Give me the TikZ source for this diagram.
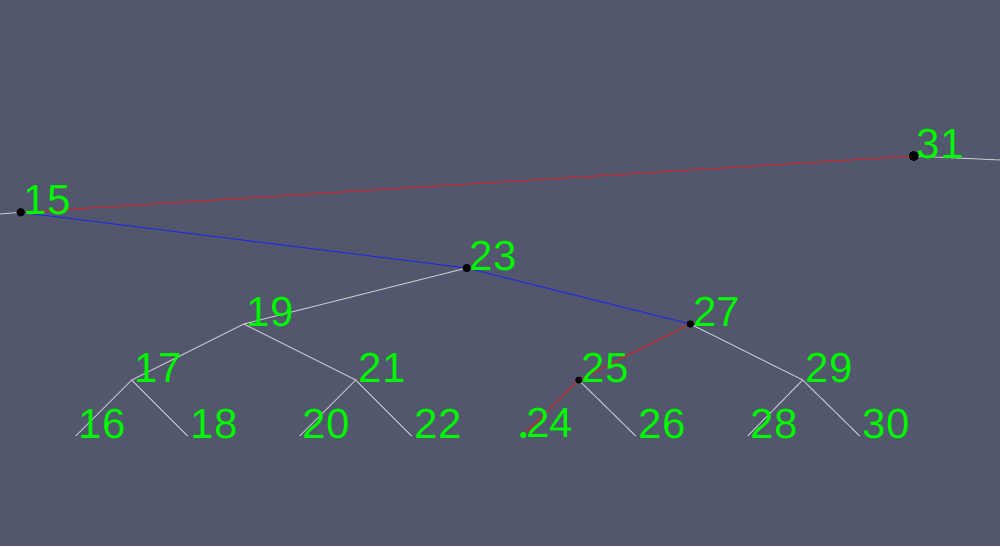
\documentclass[tikz,border=0pt]{standalone}
\usepackage{fontspec}
\setmainfont{Liberation Sans}
\usetikzlibrary{backgrounds}
\definecolor{tbbg}{RGB}{82,87,110}
\definecolor{tbgreen}{RGB}{0,250,0}
\definecolor{tbred}{RGB}{210,35,35}
\definecolor{tbblue}{RGB}{35,40,230}
\definecolor{tbgray}{RGB}{195,195,202}

\begin{document}
\begin{tikzpicture}[
    x=1pt, y=-1pt,
    pt/.style={circle, inner sep=0pt, minimum size=0pt},
    dot/.style={circle, fill=#1, inner sep=0pt},
    num/.style={font=\fontsize{42}{42}\selectfont, text=tbgreen, inner sep=0pt,
                anchor=base west, xshift=3pt, yshift=-2pt},
    edge/.style={line width=1pt, draw=#1},
]
\useasboundingbox (0,0) rectangle (1000,546);

% --- TOP: root chain ---
\coordinate (lout) at (0,214);
\coordinate (rout) at (1000,160);
\node[dot=black, minimum size=8.5pt] (n15) at (20.7,212.3) {};
\node[dot=black, minimum size=10pt]  (n31) at (913.7,156) {};

% --- LEVEL 2-3: inner nodes ---
\node[dot=black, minimum size=8.5pt] (n23) at (466.7,268) {};
\node[pt]                            (n19) at (243.7,324) {};
\node[dot=black, minimum size=7.5pt] (n27) at (690.3,324) {};

% --- LEVEL 4 ---
\node[pt]                          (n17) at (131.7,380) {};
\node[pt]                          (n21) at (355.7,380) {};
\node[dot=black, minimum size=7pt] (n25) at (578.7,380) {};
\node[pt]                          (n29) at (802.7,380) {};

% --- LEAVES ---
\node[pt]                              (n16) at (75.7,436) {};
\node[pt]                              (n18) at (187.7,436) {};
\node[pt]                              (n20) at (299.7,436) {};
\node[pt]                              (n22) at (411.7,436) {};
\node[dot=tbgreen, minimum size=6.5pt] (n24) at (523.3,435) {};
\node[pt]                              (n26) at (635.7,436) {};
\node[pt]                              (n28) at (747.7,436) {};
\node[pt]                              (n30) at (859.7,436) {};

% --- Key labels ---
\node[num] (k15) at (n15.center) {15};
\node[num] (k31) at (n31.center) {31};
\node[num] (k23) at (n23.center) {23};
\node[num] (k19) at (n19.center) {19};
\node[num] (k27) at (n27.center) {27};
\node[num] (k17) at (n17.center) {17};
\node[num] (k21) at (n21.center) {21};
\node[num] (k25) at (n25.center) {25};
\node[num] (k29) at (n29.center) {29};
\node[num] (k16) at (n16.center) {16};
\node[num] (k18) at (n18.center) {18};
\node[num] (k20) at (n20.center) {20};
\node[num] (k22) at (n22.center) {22};
\node[num] (k24) at (n24.center) {24};
\node[num] (k26) at (n26.center) {26};
\node[num] (k28) at (n28.center) {28};
\node[num] (k30) at (n30.center) {30};

% --- Edges (under the dots) ---
\begin{scope}[on background layer]
  \fill[tbbg] (0,0) rectangle (1000,546);
  \draw[edge=tbgray] (lout) -- (n15.center);
  \draw[edge=tbgray] (n31.center) -- (rout);
  \draw[edge=tbred]  (n15.center) -- (n31.center);
  \draw[edge=tbblue] (n15.center) -- (n23.center) -- (n27.center);
  \draw[edge=tbred]  (n27.center) -- (n25.center) -- (n24.center);
  \draw[edge=tbgray] (n23.center) -- (n19.center);
  \draw[edge=tbgray] (n19.center) -- (n17.center);
  \draw[edge=tbgray] (n19.center) -- (n21.center);
  \draw[edge=tbgray] (n17.center) -- (n16.center);
  \draw[edge=tbgray] (n17.center) -- (n18.center);
  \draw[edge=tbgray] (n21.center) -- (n20.center);
  \draw[edge=tbgray] (n21.center) -- (n22.center);
  \draw[edge=tbgray] (n25.center) -- (n26.center);
  \draw[edge=tbgray] (n27.center) -- (n29.center);
  \draw[edge=tbgray] (n29.center) -- (n28.center);
  \draw[edge=tbgray] (n29.center) -- (n30.center);
\end{scope}
\end{tikzpicture}
\end{document}
